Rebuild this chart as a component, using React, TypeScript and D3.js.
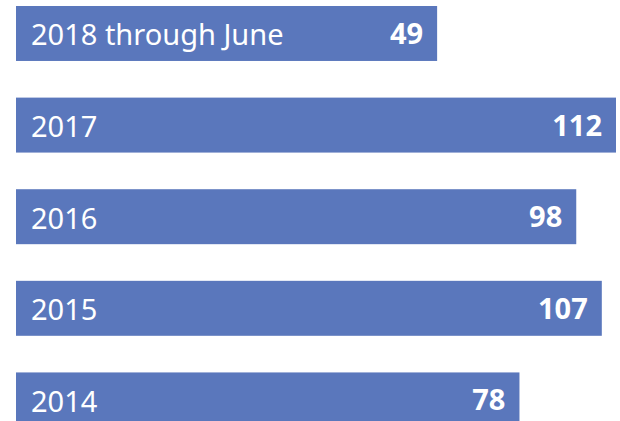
import React from "react";
import * as d3 from "d3";

const categories: string[] = ["2018 through June", "2017", "2016", "2015", "2014"];
const values: number[] = [49, 112, 98, 107, 78];

const W = 620;
const H = 421;
const BAR_X0 = 16;
const BAR_COLOR = "#5A77BC";
const FONT = "'Noto Sans', 'Open Sans', sans-serif";

export default function App() {
  const y = d3
    .scaleBand<string>()
    .domain(categories)
    .range([6, 427.4])
    .paddingInner(0.4)
    .paddingOuter(0);

  const x = d3.scaleLinear().domain([0, 112]).range([298, 616]);

  const bw = y.bandwidth();

  return (
    <svg
      width={W}
      height={H}
      style={{ position: "absolute", left: 0, top: 0, background: "#fff" }}
    >
      {categories.map((c, i) => {
        const top = y(c) as number;
        const cy = top + bw / 2;
        const right = x(values[i]);
        return (
          <g key={c}>
            <rect x={BAR_X0} y={top} width={right - BAR_X0} height={bw} fill={BAR_COLOR} />
            <text
              x={31}
              y={cy + 12}
              fill="#fff"
              fontFamily={FONT}
              fontSize={29}
              fontWeight={400}
            >
              {c}
            </text>
            <text
              x={right - 14}
              y={cy + 10.5}
              fill="#fff"
              textAnchor="end"
              fontFamily={FONT}
              fontSize={29}
              fontWeight={700}
            >
              {values[i]}
            </text>
          </g>
        );
      })}
    </svg>
  );
}
